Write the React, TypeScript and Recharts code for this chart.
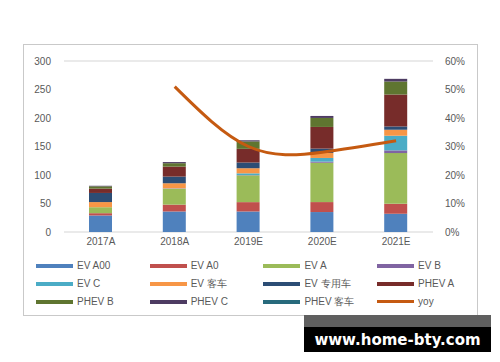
import { ComposedChart, Bar, Line, XAxis, YAxis, CartesianGrid } from 'recharts';

const years = ['2017A', '2018A', '2019E', '2020E', '2021E'];

const evA00 = [29, 36, 36, 35, 32];
const evA0 = [4, 12, 16.4, 17.5, 17.5];
const evA = [10.5, 27.5, 47, 69, 89];
const evB = [0, 0.5, 0.5, 2, 4.7];
const evC = [0, 0.5, 3, 6.4, 25.7];
const evBus = [9, 9, 9, 8.8, 10.5];
const evSpecial = [16, 11.7, 10, 7.6, 5.8];
const phevA = [7.6, 17.5, 24, 38, 56];
const phevB = [4, 6, 13, 15.8, 22.8];
const phevC = [1, 2, 2, 3.5, 4.7];
const phevBus = [0, 0, 0, 0, 0];
const yoy = [null, 0.51, 0.3, 0.28, 0.32];

const leftTicks = [0, 50, 100, 150, 200, 250, 300];
const rightTicks = [0, 0.1, 0.2, 0.3, 0.4, 0.5, 0.6];

const series = [
  { key: 'evA00', name: 'EV A00', values: evA00, color: '#4F81BD' },
  { key: 'evA0', name: 'EV A0', values: evA0, color: '#C0504D' },
  { key: 'evA', name: 'EV A', values: evA, color: '#9BBB59' },
  { key: 'evB', name: 'EV B', values: evB, color: '#8064A2' },
  { key: 'evC', name: 'EV C', values: evC, color: '#4BACC6' },
  { key: 'evBus', name: 'EV 客车', values: evBus, color: '#F79646' },
  { key: 'evSpecial', name: 'EV 专用车', values: evSpecial, color: '#2C4D75' },
  { key: 'phevA', name: 'PHEV A', values: phevA, color: '#772C2A' },
  { key: 'phevB', name: 'PHEV B', values: phevB, color: '#5F7530' },
  { key: 'phevC', name: 'PHEV C', values: phevC, color: '#4D3B62' },
  { key: 'phevBus', name: 'PHEV 客车', values: phevBus, color: '#276A7C' },
];

const yoyColor = '#C55A11';

const data = years.map((year, i) => {
  const row: Record<string, string | number | null> = { year, yoy: yoy[i] };
  series.forEach((s) => {
    row[s.key] = s.values[i];
  });
  return row;
});

const legendItems = [...series.map((s) => ({ name: s.name, color: s.color, thin: false })), { name: 'yoy', color: yoyColor, thin: true }];

const tickStyle = { fontSize: 10, fill: '#595959', fontFamily: 'Liberation Sans, Arial, sans-serif' };

export default function App() {
  return (
    <div style={{ position: 'absolute', left: 0, top: 0, width: 500, height: 362, background: '#fff' }}>
      <div
        style={{
          position: 'absolute',
          left: 23,
          top: 44,
          width: 455,
          height: 272,
          border: '1px solid #c9c9c9',
          boxSizing: 'border-box',
        }}
      />
      <div style={{ position: 'absolute', left: 0, top: 0 }}>
        <ComposedChart width={500} height={362} data={data} margin={{ top: 61, right: 27, left: 24, bottom: 110 }}>
          <CartesianGrid vertical={false} stroke="#e3e3e3" strokeWidth={1.5} />
          <XAxis
            dataKey="year"
            axisLine={false}
            tickLine={false}
            tickSize={0}
            tickMargin={6}
            height={20}
            tick={tickStyle}
          />
          <YAxis
            yAxisId="left"
            domain={[0, 300]}
            ticks={leftTicks}
            axisLine={false}
            tickLine={false}
            tickSize={6}
            tickMargin={7}
            width={40}
            tick={tickStyle}
          />
          <YAxis
            yAxisId="right"
            orientation="right"
            domain={[0, 0.6]}
            ticks={rightTicks}
            tickFormatter={(v: number) => `${Math.round(v * 100)}%`}
            axisLine={false}
            tickLine={false}
            tickSize={6}
            tickMargin={6}
            width={40}
            tick={{ ...tickStyle, textAnchor: 'start' }}
          />
          {series.map((s) => (
            <Bar
              key={s.key}
              yAxisId="left"
              dataKey={s.key}
              name={s.name}
              stackId="a"
              fill={s.color}
              barSize={23}
              isAnimationActive={false}
            />
          ))}
          <Line
            yAxisId="right"
            type="natural"
            dataKey="yoy"
            name="yoy"
            stroke={yoyColor}
            strokeWidth={3}
            dot={false}
            isAnimationActive={false}
          />
        </ComposedChart>
      </div>
      {legendItems.map((item, i) => {
        const col = i % 4;
        const row = Math.floor(i / 4);
        return (
          <div
            key={item.name}
            style={{
              position: 'absolute',
              left: 36 + col * 113.7,
              top: 259 + row * 18,
              height: 13,
              display: 'flex',
              alignItems: 'center',
              fontFamily: 'Liberation Sans, Arial, sans-serif',
              fontSize: 10,
              color: '#595959',
              whiteSpace: 'nowrap',
            }}
          >
            <span
              style={{
                display: 'inline-block',
                width: 37,
                height: item.thin ? 3 : 4,
                background: item.color,
                marginRight: 4,
              }}
            />
            {item.name}
          </div>
        );
      })}
      <div
        style={{
          position: 'absolute',
          left: 304,
          top: 315,
          width: 187,
          height: 37,
          background: '#000',
          borderTop: '12px solid #5f5f5f',
          boxSizing: 'border-box',
          color: '#fff',
          fontFamily: 'DejaVu Sans, sans-serif',
          fontWeight: 'bold',
          fontSize: 15,
          display: 'flex',
          alignItems: 'center',
          justifyContent: 'center',
        }}
      >
        www.home-bty.com
      </div>
    </div>
  );
}
